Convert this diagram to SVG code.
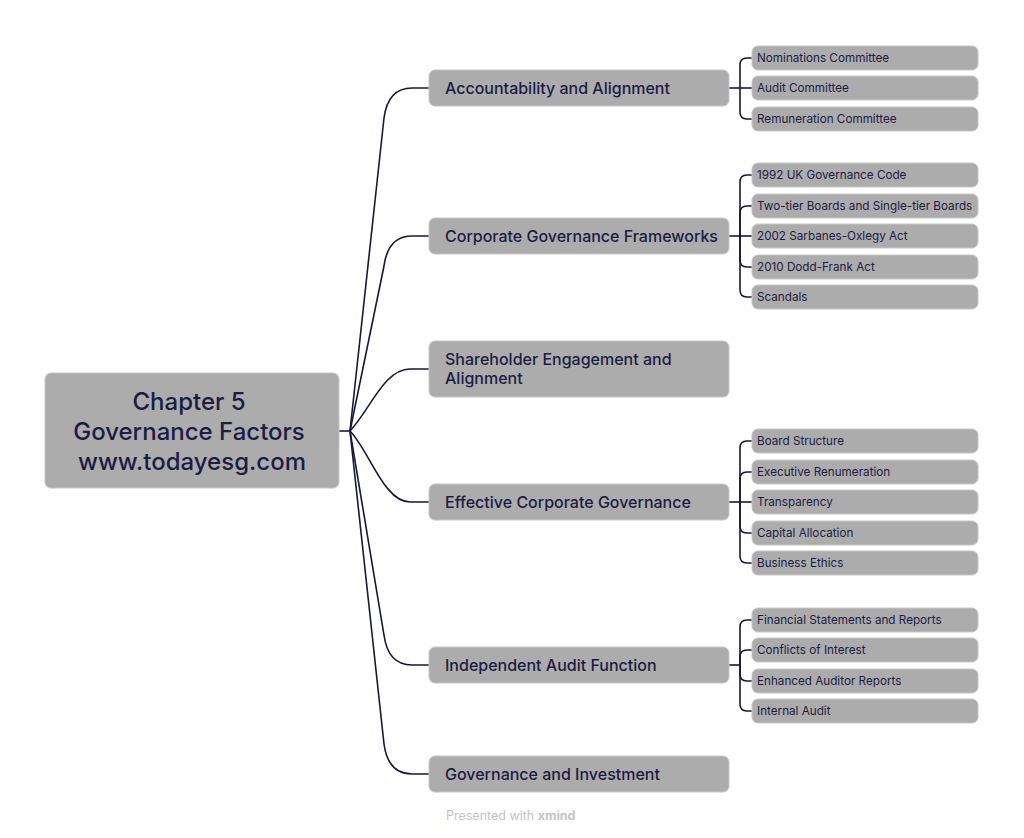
<svg xmlns="http://www.w3.org/2000/svg" width="1024" height="838" viewBox="0 0 1024 838">
<style>
.box{fill:#acacac;stroke:#c6c6c6;stroke-width:1}
.t{font-family:Inter,"Noto Sans",sans-serif;fill:#1c1c44}
.root{font-size:24px;font-weight:500;text-anchor:middle}
.br{font-size:16px;font-weight:500}
.lf{font-size:11.7px;font-weight:400}
.c{fill:none;stroke:#17173d;stroke-width:1.6}
</style>
<rect width="1024" height="838" fill="#ffffff"/>
<g id="connectors">
<path class="c" d="M339 431 L350 431" stroke-width="2.5"/>
<path class="c" d="M350 431 L384 118 Q388 88 412 88 L429 88"/>
<path class="c" d="M350 431 L384 266 Q388 236 412 236 L429 236"/>
<path class="c" d="M350 431 C370 410 384 369 410 369 L429 369"/>
<path class="c" d="M350 431 C370 452 384 502 410 502 L429 502"/>
<path class="c" d="M350 431 L384 635 Q388 665 412 665 L429 665"/>
<path class="c" d="M350 431 L384 744 Q388 774 412 774 L429 774"/>
<!-- Accountability leaves -->
<path class="c" d="M729 88 L752 88"/>
<path class="c" d="M740 88 L740 65 Q740 58 747 58 L752 58"/>
<path class="c" d="M740 88 L740 112 Q740 119 747 119 L752 119"/>
<!-- Corporate leaves -->
<path class="c" d="M729 236 L752 236"/>
<path class="c" d="M740 236 L740 182 Q740 175 747 175 L752 175"/>
<path class="c" d="M740 236 L740 213 Q740 206 747 206 L752 206"/>
<path class="c" d="M740 236 L740 260 Q740 267 747 267 L752 267"/>
<path class="c" d="M740 236 L740 290 Q740 297 747 297 L752 297"/>
<!-- Effective leaves -->
<path class="c" d="M729 502 L752 502"/>
<path class="c" d="M740 502 L740 448 Q740 441 747 441 L752 441"/>
<path class="c" d="M740 502 L740 479 Q740 472 747 472 L752 472"/>
<path class="c" d="M740 502 L740 526 Q740 533 747 533 L752 533"/>
<path class="c" d="M740 502 L740 556 Q740 563 747 563 L752 563"/>
<!-- Independent leaves -->
<path class="c" d="M729 665 L740 665"/>
<path class="c" d="M740 665 L740 627 Q740 620 747 620 L752 620"/>
<path class="c" d="M740 665 L740 657 Q740 650 747 650 L752 650"/>
<path class="c" d="M740 665 L740 674 Q740 681 747 681 L752 681"/>
<path class="c" d="M740 665 L740 704 Q740 711 747 711 L752 711"/>
</g>
<g id="root">
<rect class="box" x="45" y="373" width="294" height="115" rx="6"/>
<text class="t root" x="189" y="410">Chapter 5</text>
<text class="t root" x="189" y="440">Governance Factors</text>
<text class="t root" x="192" y="470">www.todayesg.com</text>
</g>
<g id="b1"><rect class="box" x="429" y="70" width="300" height="36" rx="6"/><text class="t br" x="445" y="94">Accountability and Alignment</text></g>
<g id="b2"><rect class="box" x="429" y="218" width="300" height="36" rx="6"/><text class="t br" x="445" y="242">Corporate Governance Frameworks</text></g>
<g id="b3"><rect class="box" x="429" y="341" width="300" height="56" rx="6"/><text class="t br" x="445" y="365">Shareholder Engagement and</text><text class="t br" x="445" y="384">Alignment</text></g>
<g id="b4"><rect class="box" x="429" y="484" width="300" height="36" rx="6"/><text class="t br" x="445" y="508">Effective Corporate Governance</text></g>
<g id="b5"><rect class="box" x="429" y="647" width="300" height="36" rx="6"/><text class="t br" x="445" y="671">Independent Audit Function</text></g>
<g id="b6"><rect class="box" x="429" y="756" width="300" height="36" rx="6"/><text class="t br" x="445" y="780">Governance and Investment</text></g>
<g id="l1a"><rect class="box" x="752" y="46" width="226" height="24" rx="6"/><text class="t lf" x="757" y="62">Nominations Committee</text></g>
<g id="l1b"><rect class="box" x="752" y="76" width="226" height="24" rx="6"/><text class="t lf" x="757" y="92">Audit Committee</text></g>
<g id="l1c"><rect class="box" x="752" y="107" width="226" height="24" rx="6"/><text class="t lf" x="757" y="123">Remuneration Committee</text></g>
<g id="l2a"><rect class="box" x="752" y="163" width="226" height="24" rx="6"/><text class="t lf" x="757" y="179">1992 UK Governance Code</text></g>
<g id="l2b"><rect class="box" x="752" y="194" width="226" height="24" rx="6"/><text class="t lf" x="757" y="210">Two-tier Boards and Single-tier Boards</text></g>
<g id="l2c"><rect class="box" x="752" y="224" width="226" height="24" rx="6"/><text class="t lf" x="757" y="240">2002 Sarbanes-Oxlegy Act</text></g>
<g id="l2d"><rect class="box" x="752" y="255" width="226" height="24" rx="6"/><text class="t lf" x="757" y="271">2010 Dodd-Frank Act</text></g>
<g id="l2e"><rect class="box" x="752" y="285" width="226" height="24" rx="6"/><text class="t lf" x="757" y="301">Scandals</text></g>
<g id="l4a"><rect class="box" x="752" y="429" width="226" height="24" rx="6"/><text class="t lf" x="757" y="445">Board Structure</text></g>
<g id="l4b"><rect class="box" x="752" y="460" width="226" height="24" rx="6"/><text class="t lf" x="757" y="476">Executive Renumeration</text></g>
<g id="l4c"><rect class="box" x="752" y="490" width="226" height="24" rx="6"/><text class="t lf" x="757" y="506">Transparency</text></g>
<g id="l4d"><rect class="box" x="752" y="521" width="226" height="24" rx="6"/><text class="t lf" x="757" y="537">Capital Allocation</text></g>
<g id="l4e"><rect class="box" x="752" y="551" width="226" height="24" rx="6"/><text class="t lf" x="757" y="567">Business Ethics</text></g>
<g id="l5a"><rect class="box" x="752" y="608" width="226" height="24" rx="6"/><text class="t lf" x="757" y="624">Financial Statements and Reports</text></g>
<g id="l5b"><rect class="box" x="752" y="638" width="226" height="24" rx="6"/><text class="t lf" x="757" y="654">Conflicts of Interest</text></g>
<g id="l5c"><rect class="box" x="752" y="669" width="226" height="24" rx="6"/><text class="t lf" x="757" y="685">Enhanced Auditor Reports</text></g>
<g id="l5d"><rect class="box" x="752" y="699" width="226" height="24" rx="6"/><text class="t lf" x="757" y="715">Internal Audit</text></g>
<text x="446" y="820" font-family="Inter,'Noto Sans',sans-serif" font-size="12.5" fill="#c4c4c4">Presented with <tspan font-weight="700">xmind</tspan></text>
</svg>
